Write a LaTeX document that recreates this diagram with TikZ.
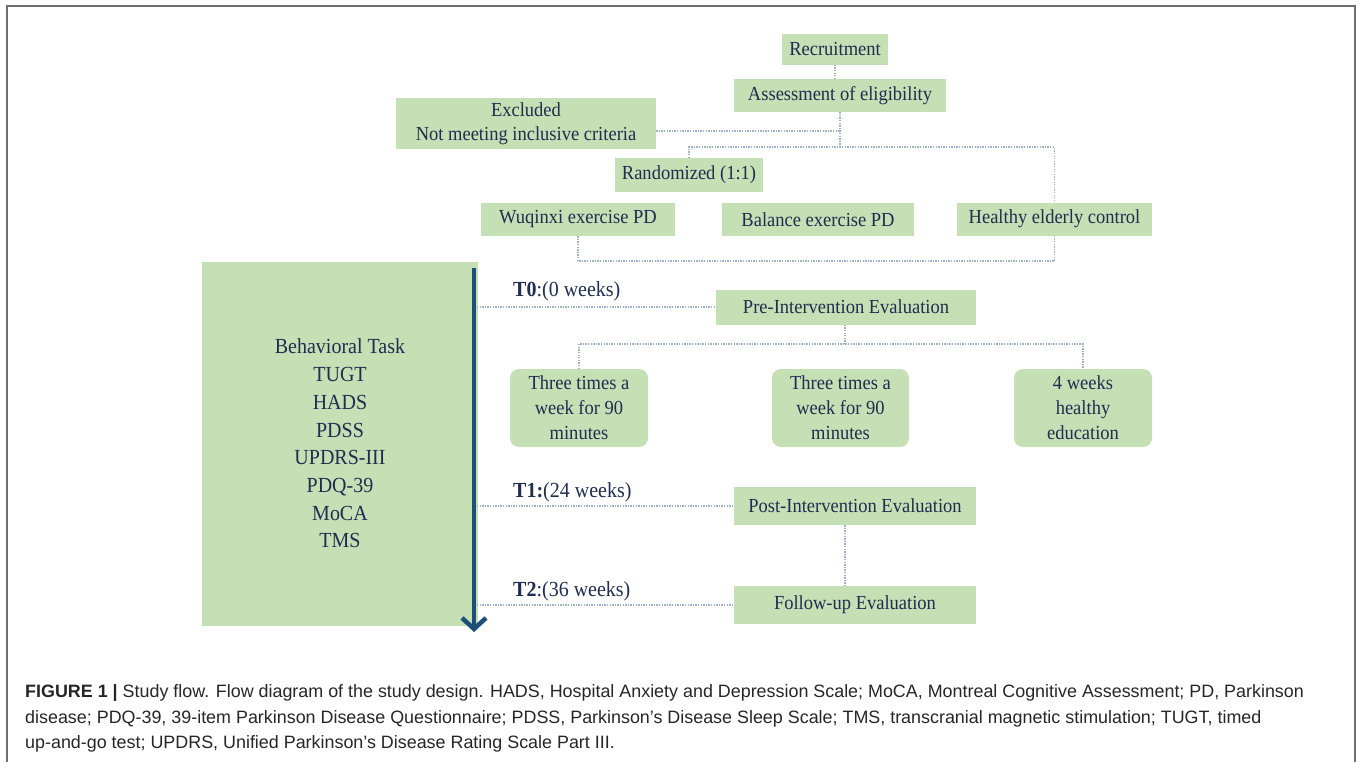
\documentclass[tikz,border=0pt]{standalone}
\usepackage{fontspec}
\setmainfont[FakeStretch=0.93]{Liberation Serif}
\newfontfamily\capfont{Liberation Sans}
\usetikzlibrary{arrows.meta}
\definecolor{boxgreen}{HTML}{C5E0B4}
\definecolor{navy}{HTML}{1F2D50}
\definecolor{arrowblue}{HTML}{1F4E79}
\definecolor{dotblue}{HTML}{9DB0CE}
\definecolor{framegray}{HTML}{6E6E6E}
\definecolor{captext}{HTML}{262626}
\begin{document}
\begin{tikzpicture}[x=1pt,y=-1pt,
  box/.style={fill=boxgreen, text=navy, inner sep=0pt, font=\fontsize{19.9}{24}\selectfont, align=center},
  rbox/.style={box, rounded corners=9pt},
  conn/.style={draw=dotblue, line width=1.1pt, dash pattern=on 1.3pt off 1.3pt},
  tlabel/.style={text=navy, font=\fontsize{21.5}{22}\selectfont, anchor=west, inner sep=0pt},
  caption/.style={text=captext, font=\capfont\fontsize{17.9}{20}\selectfont, anchor=base west, inner sep=0pt},
  frame/.style={draw=framegray, line width=2pt},
  timearrow/.style={draw=arrowblue, line width=4.5pt, -{Straight Barb[length=11pt,width=24pt]}}
]
\useasboundingbox (0,0) rectangle (1360,761);
\draw[frame] (7,775) -- (7,6) -- (1355,6) -- (1355,775);

% top part
\node[box, minimum width=106, minimum height=31] (rec) at (835,49) {Recruitment};
\node[box, minimum width=212, minimum height=33] (ass) at (840,95.5) {Assessment of eligibility};
\node[box, minimum width=260, minimum height=51] (exc) at (526,123.5) {Excluded\\Not meeting inclusive criteria};
\node[box, minimum width=148, minimum height=34] (ran) at (689,175) {Randomized (1:1)};
\node[box, minimum width=194, minimum height=33] (wuq) at (578,219.5) {Wuqinxi exercise PD};
\node[box, minimum width=192, minimum height=33] (bal) at (818,219.5) {Balance exercise PD};
\node[box, minimum width=195, minimum height=33] (hea) at (1054.5,219) {Healthy elderly control};

\coordinate (split) at (840,147);
\draw[conn] (rec.south) -- (rec.south |- ass.north);
\draw[conn] (ass.south) -- (split);
\draw[conn] ([yshift=-7.5pt]exc.east) -- ([yshift=-7.5pt]exc.east -| split);
\draw[conn] (ran.north) |- (split) -| (hea.north);
\coordinate (bot) at (hea.south |- 0,261);
\draw[conn] (wuq.south) |- (bot) -- (hea.south);

% left box and time arrow
\node[box, minimum width=276, minimum height=364, font=\fontsize{21.5}{27.7}\selectfont] (left) at (340,443.5)
  {Behavioral Task\\TUGT\\HADS\\PDSS\\UPDRS-III\\PDQ-39\\MoCA\\TMS};
\coordinate (atop) at (474,268);
\coordinate (abot) at (474,632);
\draw[timearrow] (atop) -- (abot);

% evaluations
\node[box, minimum width=260, minimum height=35] (pre) at (846,307) {Pre-Intervention Evaluation};
\node[box, minimum width=242, minimum height=38] (post) at (855,506) {Post-Intervention Evaluation};
\node[box, minimum width=242, minimum height=38] (fol) at (855,605) {Follow-up Evaluation};

\node[rbox, minimum width=138, minimum height=78, font=\fontsize{19.9}{25}\selectfont] (r1) at (579,408) {Three times a\\week for 90\\minutes};
\node[rbox, minimum width=137, minimum height=78, font=\fontsize{19.9}{25}\selectfont] (r2) at (840.5,408) {Three times a\\week for 90\\minutes};
\node[rbox, minimum width=138, minimum height=78, font=\fontsize{19.9}{25}\selectfont] (r3) at (1083,408) {4 weeks\\healthy\\education};

\coordinate (hub) at (845,344);
\draw[conn] (pre.south -| hub) -- (hub);
\draw[conn] (r1.north) |- (hub) -| (r3.north);
\draw[conn] (post.south -| hub) -- (fol.north -| hub);

% time labels
\node[tlabel] (l0) at (513,291) {\textbf{T0}:(0 weeks)};
\node[tlabel] (l1) at (513,492) {\textbf{T1:}(24 weeks)};
\node[tlabel] (l2) at (513,591) {\textbf{T2}:(36 weeks)};
\coordinate (c0) at (atop |- pre.west);
\coordinate (c1) at (atop |- post.west);
\coordinate (c2) at (atop |- fol.west);
\draw[conn] ([xshift=3pt]c0) -- (pre.west);
\draw[conn] ([xshift=3pt]c1) -- (post.west);
\draw[conn] ([xshift=3pt]c2) -- (fol.west);

% caption
\node[caption] (cap1) at (25,697) {\textbf{FIGURE 1 |} Study flow. Flow diagram of the study design. HADS, Hospital Anxiety and Depression Scale; MoCA, Montreal Cognitive Assessment; PD, Parkinson};
\node[caption] (cap2) at (25,723) {disease; PDQ-39, 39-item Parkinson Disease Questionnaire; PDSS, Parkinson’s Disease Sleep Scale; TMS, transcranial magnetic stimulation; TUGT, timed};
\node[caption] (cap3) at (25,748) {up-and-go test; UPDRS, Unified Parkinson’s Disease Rating Scale Part III.};
\end{tikzpicture}
\end{document}
